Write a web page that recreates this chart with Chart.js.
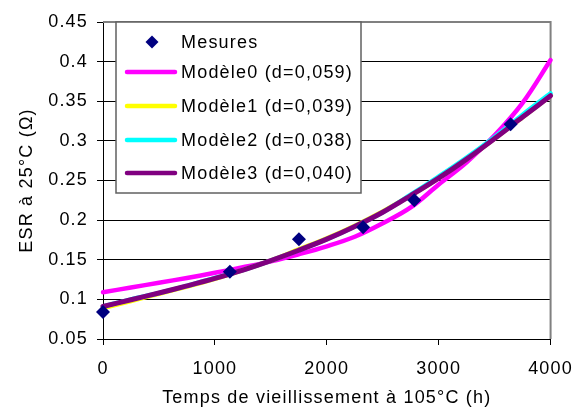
<!DOCTYPE html>
<html><head><meta charset="utf-8">
<script src="https://cdn.jsdelivr.net/npm/chart.js@4.4.1/dist/chart.umd.min.js"></script>
<style>html,body{margin:0;padding:0;background:#fff;}canvas{display:block;}</style>
</head><body>
<canvas id="c" width="586" height="413"></canvas>
<script>
// ---- data ----
const mesuresT   = [0, 1134, 1751, 2325, 2782, 3643];
const mesuresESR = [0.084, 0.135, 0.176, 0.191, 0.225, 0.321];

const modelT  = [0, 250, 500, 750, 1000, 1250, 1500, 1750, 2000, 2250, 2500, 2750, 3000, 3250, 3500, 3750, 4000];
const modele0 = [0.109, 0.115, 0.121, 0.127, 0.1335, 0.1405, 0.148, 0.157, 0.167, 0.179, 0.196, 0.216, 0.245, 0.273, 0.307, 0.348, 0.402];
const modele1 = [0.089, 0.098, 0.107, 0.116, 0.126, 0.137, 0.149, 0.163, 0.177, 0.193, 0.211, 0.231, 0.253, 0.277, 0.303, 0.330, 0.357];
const modele2 = [0.091, 0.100, 0.108, 0.117, 0.127, 0.137, 0.149, 0.162, 0.176, 0.192, 0.210, 0.232, 0.255, 0.279, 0.305, 0.333, 0.360];
const modele3 = [0.091, 0.0995, 0.108, 0.117, 0.1265, 0.137, 0.149, 0.162, 0.176, 0.192, 0.210, 0.231, 0.253, 0.277, 0.303, 0.330, 0.357];

const seriesLabels = ['Mesures', 'Modèle0 (d=0,059)', 'Modèle1 (d=0,039)', 'Modèle2 (d=0,038)', 'Modèle3 (d=0,040)'];
const seriesColors = ['#000080', '#FF00FF', '#FFFF00', '#00FFFF', '#800080'];

const yTicks = [0.05, 0.1, 0.15, 0.2, 0.25, 0.3, 0.35, 0.4, 0.45];
const yTickLabels = ['0.05', '0.1', '0.15', '0.2', '0.25', '0.3', '0.35', '0.4', '0.45'];
const xTicks = [0, 1000, 2000, 3000, 4000];
const xTickLabels = ['0', '1000', '2000', '3000', '4000'];
const xTitle = 'Temps de vieillissement à 105°C (h)';
const yTitle = 'ESR à 25°C (Ω)';

// ---- chart ----
const FONT = "'Liberation Sans', Arial, sans-serif";
const LS = '1.2px';
const pts = (xs, ys) => xs.map((x, i) => ({x: x, y: ys[i]}));

const spacingPlugin = {
  id: 'spacing',
  beforeLayout(chart) { chart.ctx.letterSpacing = LS; },
  beforeDraw(chart) {
    const ctx = chart.ctx;
    ctx.letterSpacing = LS;
    ctx.save();
    ctx.fillStyle = '#fff';
    ctx.fillRect(0, 0, chart.width, chart.height);
    ctx.restore();
  },
  beforeDatasetsDraw(chart) {
    const ctx = chart.ctx, a = chart.chartArea;
    ctx.save();
    ctx.strokeStyle = '#808080';
    ctx.lineWidth = 2;
    ctx.beginPath();
    ctx.moveTo(a.left, a.top);
    ctx.lineTo(a.right, a.top);
    ctx.lineTo(a.right, a.bottom);
    ctx.stroke();
    ctx.restore();
  },
  afterDatasetsDraw(chart) {
    const ctx = chart.ctx;
    ctx.save();
    ctx.letterSpacing = LS;
    // legend box
    const bx = 116, by = 22, bw = 245, bh = 171;
    ctx.fillStyle = '#fff';
    ctx.fillRect(bx, by, bw, bh);
    ctx.strokeStyle = '#606060';
    ctx.lineWidth = 1.5;
    ctx.strokeRect(bx, by, bw, bh);
    const rows = [42, 72, 106, 140, 173];
    ctx.font = '18px ' + FONT;
    ctx.textBaseline = 'middle';
    ctx.textAlign = 'left';
    seriesLabels.forEach((lab, i) => {
      const y = rows[i];
      if (i === 0) {
        ctx.fillStyle = seriesColors[0];
        ctx.beginPath();
        ctx.moveTo(152, y - 6.5); ctx.lineTo(158.5, y); ctx.lineTo(152, y + 6.5); ctx.lineTo(145.5, y);
        ctx.closePath(); ctx.fill();
      } else {
        ctx.strokeStyle = seriesColors[i];
        ctx.lineWidth = 4.5;
        ctx.lineCap = 'round';
        ctx.beginPath(); ctx.moveTo(127, y); ctx.lineTo(175, y); ctx.stroke();
      }
      ctx.fillStyle = '#000';
      ctx.fillText(lab, 181, y + 1);
    });
    ctx.restore();
  }
};

const lineDs = (i, data, order, w) => ({
  label: seriesLabels[i], data: data, showLine: true, borderColor: seriesColors[i],
  backgroundColor: seriesColors[i], borderWidth: w, pointRadius: 0, tension: 0.35,
  order: order, borderCapStyle: 'round', clip: 4
});

new Chart(document.getElementById('c'), {
  type: 'scatter',
  data: {
    datasets: [
      { label: seriesLabels[0], data: pts(mesuresT, mesuresESR), pointStyle: 'rectRot', pointRadius: 7,
        pointBackgroundColor: seriesColors[0], pointBorderColor: seriesColors[0], pointBorderWidth: 0,
        order: 0, clip: false },
      lineDs(4, pts(modelT, modele3), 1, 5),
      lineDs(3, pts(modelT, modele2), 2, 4.5),
      lineDs(2, pts(modelT, modele1), 3, 4.5),
      lineDs(1, pts(modelT, modele0), 4, 4.5)
    ]
  },
  options: {
    responsive: false, animation: false, devicePixelRatio: 1,
    layout: { padding: { left: 0, right: 33, top: 22, bottom: 0 } },
    plugins: { legend: { display: false }, tooltip: { enabled: false } },
    scales: {
      x: {
        type: 'linear', min: 0, max: 4000,
        afterBuildTicks: s => { s.ticks = xTicks.map(v => ({value: v})); },
        afterFit: s => { s.height = 74; },
        ticks: { callback: v => xTickLabels[xTicks.indexOf(v)], color: '#000', padding: 13, maxRotation: 0,
                 font: { family: FONT, size: 18 } },
        grid: { drawOnChartArea: false, drawTicks: true, tickLength: 6, color: '#000', lineWidth: 1 },
        border: { color: '#000', width: 1 },
        title: { display: true, text: xTitle, color: '#000', font: { family: FONT, size: 18 },
                 padding: { top: 0, bottom: 4 } }
      },
      y: {
        type: 'linear', min: 0.05, max: 0.45,
        afterBuildTicks: s => { s.ticks = yTicks.map(v => ({value: v})); },
        afterFit: s => { s.width = 103; },
        ticks: { callback: v => yTickLabels[yTicks.indexOf(v)], color: '#000', padding: 9,
                 font: { family: FONT, size: 18 } },
        grid: { drawOnChartArea: true, drawTicks: true, tickLength: 6, color: '#000', lineWidth: 1 },
        border: { color: '#000', width: 1 },
        title: { display: true, text: yTitle, color: '#000', font: { family: FONT, size: 18 },
                 padding: { top: 16, bottom: 0 } }
      }
    }
  },
  plugins: [spacingPlugin]
});
</script>
</body></html>
